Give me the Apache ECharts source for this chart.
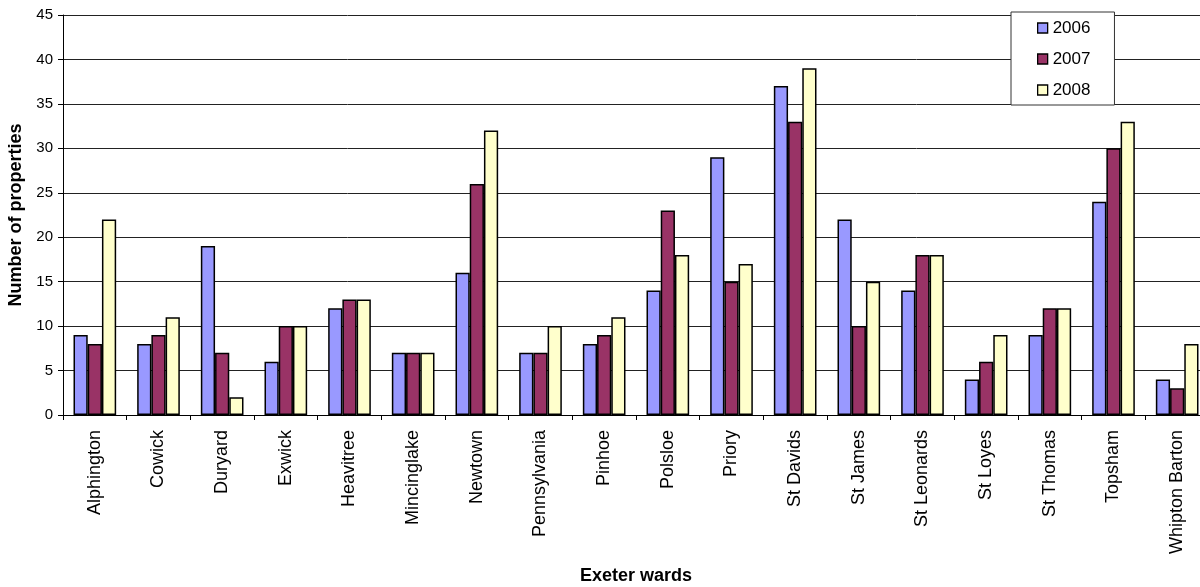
<!DOCTYPE html>
<html>
<head>
<meta charset="utf-8">
<script src="https://cdn.jsdelivr.net/npm/echarts@6/dist/echarts.min.js"></script>
<style>
html,body{margin:0;padding:0;background:#fff;}
#chart{width:1200px;height:587px;}
</style>
</head>
<body>
<div id="chart"></div>
<script>
const categories = ['Alphington','Cowick','Duryard','Exwick','Heavitree','Mincinglake','Newtown','Pennsylvania','Pinhoe','Polsloe','Priory','St Davids','St James','St Leonards','St Loyes','St Thomas','Topsham','Whipton Barton'];
const values2006 = [9,8,19,6,12,7,16,7,8,14,29,37,22,14,4,9,24,4];
const values2007 = [8,9,7,10,13,7,26,7,9,23,15,33,10,18,6,12,30,3];
const values2008 = [22,11,2,10,13,7,32,10,11,18,17,39,15,18,9,12,33,8];
const seriesNames = ['2006','2007','2008'];
const yTicks = [0,5,10,15,20,25,30,35,40,45];

const colors = ['#9999FF','#993366','#FFFFCC'];
const font = 'Liberation Sans, Arial, sans-serif';
const chart = echarts.init(document.getElementById('chart'), null, {renderer:'canvas'});
const seriesData = [values2006, values2007, values2008];

chart.setOption({
  animation:false,
  backgroundColor:'#fff',
  textStyle:{fontFamily:font},
  grid:{left:63, width:1146, top:15, height:400, containLabel:false, outerBoundsMode:'none'},
  legend:{
    orient:'vertical',
    left:1011, top:12,
    padding:[7,24,6,26],
    icon:'rect',
    itemWidth:10, itemHeight:10, itemGap:13,
    backgroundColor:'#fff',
    borderColor:'#333', borderWidth:1,
    textStyle:{fontFamily:font, fontSize:17, color:'#000', lineHeight:18},
    itemStyle:{borderColor:'#000', borderWidth:1.3},
    data:seriesNames
  },
  xAxis:{
    type:'category',
    data:categories,
    name:'Exeter wards',
    nameLocation:'middle',
    nameGap:152,
    nameTextStyle:{fontFamily:font, fontSize:18, fontWeight:'bold', color:'#000'},
    axisLine:{lineStyle:{color:'#000', width:1}},
    axisTick:{show:true, length:5, lineStyle:{color:'#000'}},
    axisLabel:{rotate:90, margin:15, fontSize:18, color:'#000', fontFamily:font, interval:0}
  },
  yAxis:{
    type:'value',
    min:yTicks[0], max:yTicks[yTicks.length-1], interval:5,
    name:'Number of properties',
    nameLocation:'middle',
    nameGap:37,
    nameTextStyle:{fontFamily:font, fontSize:18, fontWeight:'bold', color:'#000'},
    axisLine:{show:true, lineStyle:{color:'#000', width:1}},
    axisTick:{show:true, length:5, lineStyle:{color:'#000'}},
    axisLabel:{margin:10, fontSize:15, color:'#000', fontFamily:font},
    splitLine:{show:true, lineStyle:{color:'#222', width:1}}
  },
  series: seriesNames.map((n,i)=>({
    name:n,
    type:'bar',
    data:seriesData[i],
    barGap:'0%',
    barCategoryGap:'33%',
    itemStyle:{color:colors[i], borderColor:'#000', borderWidth:1.5}
  }))
});
</script>
</body>
</html>
